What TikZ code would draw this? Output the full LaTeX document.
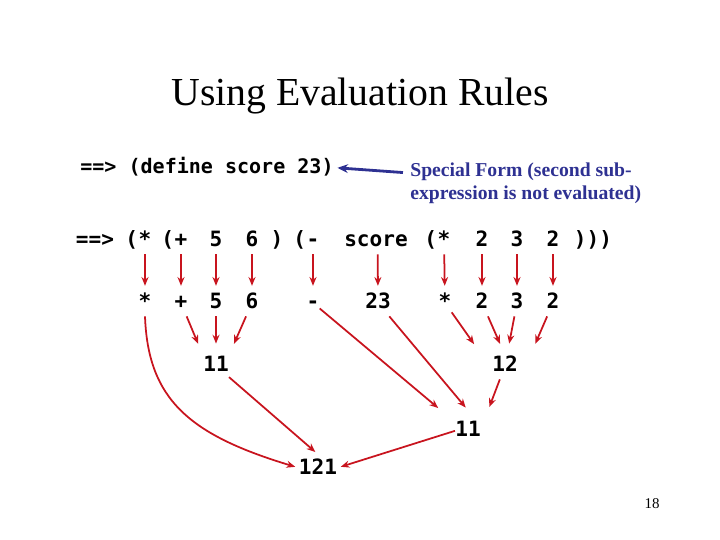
\documentclass[tikz,border=0pt]{standalone}
\usepackage{fontspec}
\setmainfont{Liberation Serif}
\newfontfamily\codefont{DejaVu Sans Mono}
\usetikzlibrary{arrows,arrows.meta,positioning}
\definecolor{evalred}{RGB}{200,20,30}
\definecolor{noteblue}{RGB}{46,49,146}

\begin{document}
\begin{tikzpicture}[x=0.02cm, y=-0.02cm,
    tok/.style={font=\codefont\bfseries\fontsize{12}{14}\selectfont, anchor=base,
                inner xsep=0pt, inner ysep=2pt, text height=9pt, text depth=2pt},
    arrow/.style={->, >={Stealth[length=5pt,width=4pt]}, evalred, line width=1pt, shorten >=2pt},
    note_arrow/.style={->, >={Stealth[length=6pt,width=5pt]}, noteblue, line width=1.6pt}
  ]
  \useasboundingbox (0,0) rectangle (720,540);

  % Title
  \node[font=\fontsize{22.6}{26}\selectfont] (title) at (360,96) {Using Evaluation Rules};

  % define line and note
  \node[tok, anchor=base west, font=\codefont\bfseries\fontsize{11.4}{14}\selectfont]
        (def_line) at (80,174) {==> (define score 23)};
  \node[anchor=north west, inner sep=0pt, align=left, text=noteblue,
        font=\bfseries\fontsize{11.2}{13.6}\selectfont] (note) at (410,162)
        {Special Form (second sub-\\expression is not evaluated)};
  \draw[note_arrow] ([xshift=-4pt, yshift=-6pt]note.north west) -- ([xshift=2pt]def_line.east);

  % Expression line
  \node[tok] (c_prompt) at (95,247) {==>};
  \node[tok] (c_mul) at (145,247) {*};
  \node[tok, left=0pt of c_mul] (c_open1) {(};
  \node[tok] (c_plus) at (181,247) {+};
  \node[tok, left=0pt of c_plus] (c_open2) {(};
  \node[tok] (c_five) at (216,247) {5};
  \node[tok] (c_six) at (252,247) {6};
  \node[tok] (c_close1) at (277,247) {)};
  \node[tok] (c_minus) at (313,247) {-};
  \node[tok, left=0pt of c_minus] (c_open3) {(};
  \node[tok] (c_score) at (376,247) {score};
  \node[tok] (c_mul2) at (444,247) {*};
  \node[tok, left=0pt of c_mul2] (c_open4) {(};
  \node[tok] (c_two) at (482,247) {2};
  \node[tok] (c_three) at (517,247) {3};
  \node[tok] (c_two2) at (553,247) {2};
  \node[tok] (c_close2) at (593,247) {)))};

  % Evaluated sub-expressions
  \node[tok] (e_mul) at (145,309) {*};
  \node[tok] (e_plus) at (181,309) {+};
  \node[tok] (e_five) at (216,309) {5};
  \node[tok] (e_six) at (252,309) {6};
  \node[tok] (e_minus) at (313,309) {-};
  \node[tok] (e_score) at (378,309) {23};
  \node[tok] (e_mul2) at (445,309) {*};
  \node[tok] (e_two) at (482,309) {2};
  \node[tok] (e_three) at (517,309) {3};
  \node[tok] (e_two2) at (553,309) {2};

  % Results
  \node[tok] (r_sum) at (216,372) {11};
  \node[tok] (r_prod) at (505,372) {12};
  \node[tok] (r_diff) at (468,437) {11};
  \node[tok] (r_total) at (318,474) {121};

  % Page number
  \node[font=\fontsize{8.5}{10}\selectfont] (page) at (652,504) {18};

  % Vertical evaluation arrows
  \draw[arrow] (c_mul) -- (e_mul);
  \draw[arrow] (c_plus) -- (e_plus);
  \draw[arrow] (c_five) -- (e_five);
  \draw[arrow] (c_six) -- (e_six);
  \draw[arrow] (c_minus) -- (e_minus);
  \draw[arrow] ([xshift=1pt]c_score.south) -- (e_score);
  \draw[arrow] (c_mul2) -- (e_mul2);
  \draw[arrow] (c_two) -- (e_two);
  \draw[arrow] (c_three) -- (e_three);
  \draw[arrow] (c_two2) -- (e_two2);

  % Apply +
  \draw[arrow] (e_plus) -- ([xshift=-2pt, yshift=3pt]r_sum.north west);
  \draw[arrow] (e_five) -- ([yshift=3pt]r_sum.north);
  \draw[arrow] (e_six) -- ([xshift=2pt, yshift=3pt]r_sum.north east);

  % Apply * (inner)
  \draw[arrow] (e_mul2) -- ([xshift=-9pt, yshift=3pt]r_prod.north west);
  \draw[arrow] (e_two) -- ([xshift=-2pt, yshift=3pt]r_prod.north);
  \draw[arrow] (e_three) -- ([xshift=2pt, yshift=3pt]r_prod.north);
  \draw[arrow] (e_two2) -- ([xshift=9pt, yshift=3pt]r_prod.north east);

  % Apply -
  \draw[arrow] (e_minus) -- ([xshift=-8pt, yshift=4pt]r_diff.north west);
  \draw[arrow] (e_score) -- ([yshift=4pt]r_diff.north);
  \draw[arrow] (r_prod) -- ([xshift=4pt, yshift=4pt]r_diff.north east);

  % Apply * (outer)
  \draw[arrow] (e_mul.south) .. controls (148,400) and (190,435) .. (r_total.west);
  \draw[arrow] (r_sum) -- (r_total.north);
  \draw[arrow] (r_diff.west) -- (r_total.east);

\end{tikzpicture}
\end{document}
